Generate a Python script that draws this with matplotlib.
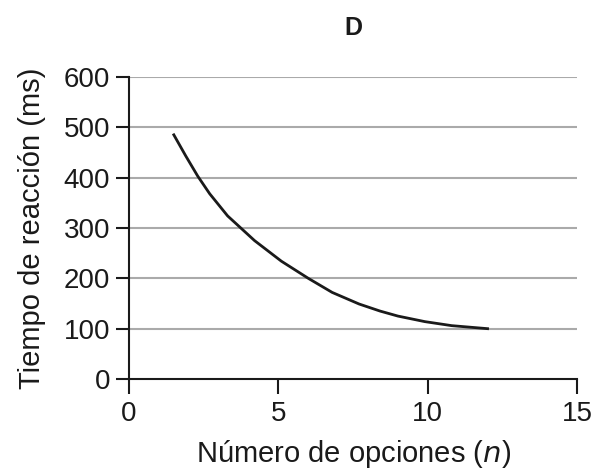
import matplotlib
matplotlib.use("Agg")
import matplotlib.pyplot as plt

# values
options = [1.5, 1.9, 2.3, 2.7, 3.3, 4.2, 5.1, 6.0, 6.8, 7.7, 8.4, 9.0, 9.9, 10.8, 12.0]
reaction_ms = [485, 443, 403, 368, 324, 275, 234, 200, 172, 149, 135, 125, 114, 106, 100]

x_ticks = [0, 5, 10, 15]
y_ticks = [0, 100, 200, 300, 400, 500, 600]

plt.rcParams["font.family"] = ["Liberation Sans", "DejaVu Sans"]

fig = plt.figure(figsize=(6.0, 4.72), dpi=100)
ax = fig.add_axes([0.215, 0.197, 0.747, 0.640])

for y in y_ticks[1:]:
    ax.axhline(y, color="#aaaaaa", linewidth=1.5, zorder=1)

ax.plot(options, reaction_ms, color="#1a1a1a", linewidth=2.0, zorder=3)

ax.set_xlim(0, 15)
ax.set_ylim(0, 600)
ax.set_xticks(x_ticks)
ax.set_yticks(y_ticks)

for side in ("top", "right"):
    ax.spines[side].set_visible(False)
for side in ("left", "bottom"):
    ax.spines[side].set_linewidth(1.5)
    ax.spines[side].set_color("#1a1a1a")

ax.tick_params(axis="y", direction="out", length=9.5, width=1.5,
               color="#1a1a1a", labelsize=20, labelcolor="#1a1a1a", pad=4)
ax.tick_params(axis="x", direction="out", length=10.5, width=1.5,
               color="#1a1a1a", labelsize=20, labelcolor="#1a1a1a", pad=5)

ax.set_xlabel("Número de opciones ($\\it{n}$)", fontsize=21, color="#1a1a1a", labelpad=8)
ax.set_ylabel("Tiempo de reacción (ms)", fontsize=21, color="#1a1a1a", labelpad=13)

ax.set_title("D", fontsize=18, fontweight="bold", color="#1a1a1a", pad=30)

fig.savefig("out.png", dpi=100)
